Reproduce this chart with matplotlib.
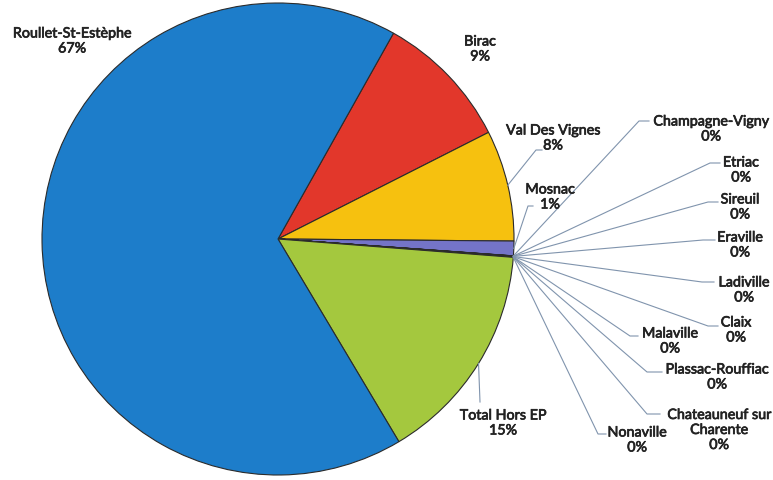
import numpy as np
import matplotlib
matplotlib.use("Agg")
from matplotlib import pyplot as plt
from matplotlib import patheffects

# parts per commune, clockwise starting from Birac
communes = ["Birac", "Val Des Vignes", "Mosnac",
            "Champagne-Vigny", "Etriac", "Sireuil", "Eraville", "Ladiville",
            "Claix", "Malaville", "Plassac-Rouffiac",
            "Chateauneuf sur\nCharente", "Nonaville",
            "Total Hors EP", "Roullet-St-Estèphe"]
parts = [9.4, 7.6, 1.0,
         0.01, 0.01, 0.01, 0.01, 0.01,
         0.01, 0.01, 0.01, 0.01, 0.01,
         15.2, 66.7]
colours = ["#e2372b", "#f6c10f", "#7474c8"] + ["#8a8ad0"] * 10 + ["#a4c83e", "#1d7dca"]

# label centres and leader elbows, pixel units (y from top)
label_xy = [(480, 50), (553, 139), (550, 198),
            (711, 130), (741, 171), (740, 208), (740, 246), (744, 291),
            (736, 331), (670, 342), (717, 378), (719, 431), (637, 441),
            (503, 424), (72, 42)]
elbows = [None, (536, 151), (528, 207),
          (639, 122), (710, 164), (708, 203), (703, 241), (702, 283),
          (708, 327), (630, 337), (647, 373), (647, 415), (598, 435),
          (480, 403), None]
ticks = [0, 6, 5, 10, 10, 10, 12, 12, 10, 8, 15, 13, 8, 0, 0]

W, H = 773, 481
cx, cy, rad = 278, 240, 236

plt.rcParams['font.family'] = ['Lato', 'DejaVu Sans']

fig = plt.figure(figsize=(W / 100, H / 100), dpi=100)
ax = fig.add_axes([0, 0, 1, 1])
ax.set_xlim(0, W)
ax.set_ylim(0, H)
ax.set_aspect('equal')
ax.axis('off')

wedges, _ = ax.pie(parts, colors=colours, startangle=60.7, counterclock=False,
                   center=(cx, H - cy), radius=rad,
                   wedgeprops=dict(edgecolor="#2b2b2b", linewidth=0.8))
ax.set_xlim(0, W)
ax.set_ylim(0, H)

thick = [patheffects.withStroke(linewidth=0.5, foreground="#222222")]
total = sum(parts)
for i, w in enumerate(wedges):
    pct = "{:.0f}%".format(parts[i] / total * 100)
    tx, ty = label_xy[i]
    ax.text(tx, H - ty, communes[i] + "\n" + pct, ha='center', va='center',
            multialignment='center', fontsize=10.3, color="#222222",
            linespacing=1.3, path_effects=thick)
    if elbows[i] is None:
        continue
    mid = np.deg2rad((w.theta1 + w.theta2) / 2)
    x0 = cx + rad * np.cos(mid)
    y0 = (H - cy) + rad * np.sin(mid)
    ex, ey = elbows[i]
    ax.plot([x0, ex, ex + ticks[i]], [y0, H - ey, H - ey],
            color="#8094ad", linewidth=0.8)

fig.savefig("out.png", dpi=100)
